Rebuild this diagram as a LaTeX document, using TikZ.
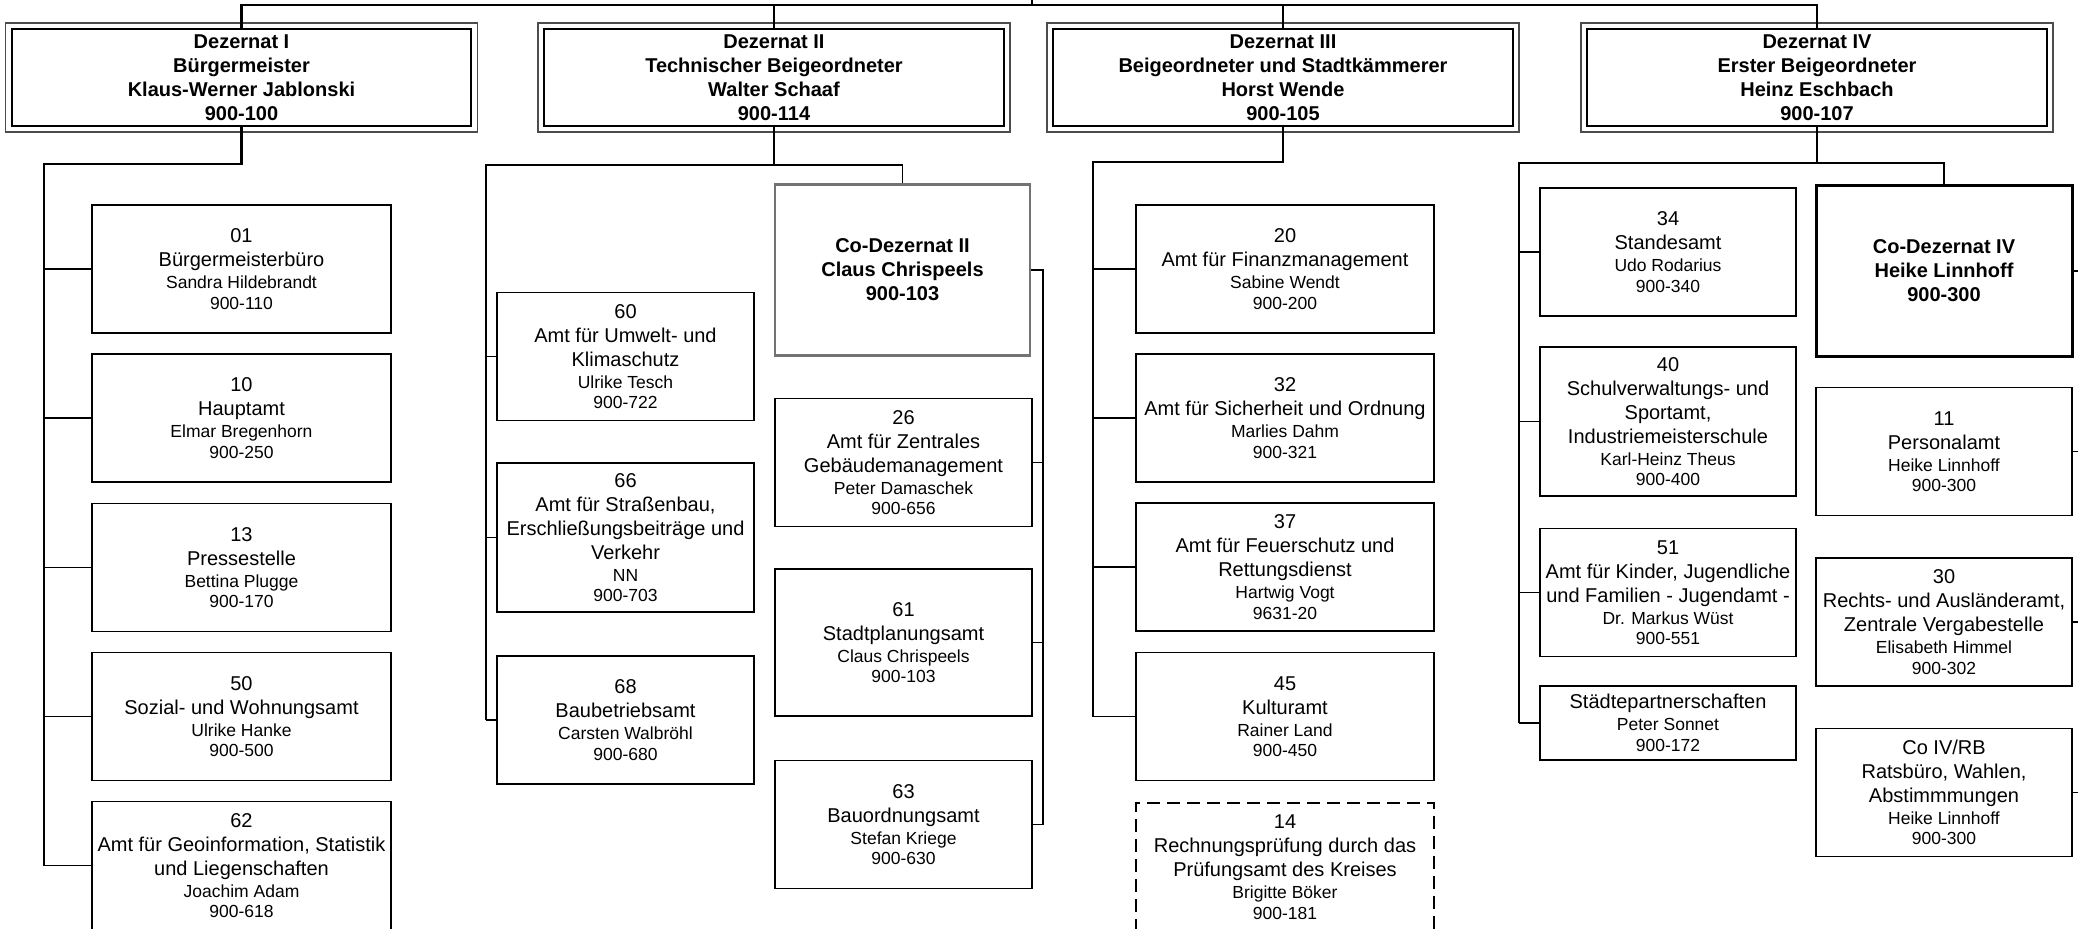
\documentclass[tikz,border=0pt]{standalone}
\usepackage{fontspec}
\setmainfont{Liberation Sans}

\begin{document}
\begin{tikzpicture}[x=1pt, y=-1pt,
    every node/.style={align=center, inner sep=0pt, font=\fontsize{20}{24}\selectfont},
    dezbox/.style={draw, line width=2.2pt, minimum width=459.6pt, minimum height=97pt,
      font=\bfseries\fontsize{20}{24}\selectfont},
    amtbox/.style={draw, line width=1.4pt, minimum width=#1, minimum height=128pt},
    pruefbox/.style={amtbox=#1, dash pattern=on 13pt off 7pt},
    cobox/.style={draw, minimum width=256pt, minimum height=171pt,
      font=\bfseries\fontsize{20}{24}\selectfont},
    spineline/.style={line width=2.2pt},
    twigline/.style={line width=1.3pt}]
      \useasboundingbox (0,0) rectangle (2078,929);
      \def\klein#1{{\fontsize{17.5}{20.5}\selectfont #1}}
      \def\amt#1#2#3{#1\\[-2pt]\klein{#2}\\[-3.5pt]\klein{#3}}
      \def\wI{299pt};
      \def\wII{257pt};
      \def\wIII{298pt};
      \def\wIV{256pt};
      %
      % Dezernate
      \node[dezbox] (dez1) at (241.5,77.5) {Dezernat I\\Bürgermeister\\Klaus-Werner Jablonski\\900-100};
      \node[dezbox] (dez2) at (774,77.5) {Dezernat II\\Technischer Beigeordneter\\Walter Schaaf\\900-114};
      \node[dezbox] (dez3) at (1283,77.5) {Dezernat III\\Beigeordneter und Stadtkämmerer\\Horst Wende\\900-105};
      \node[dezbox] (dez4) at (1817,77.5) {Dezernat IV\\Erster Beigeordneter\\Heinz Eschbach\\900-107};
      \foreach \d in {dez1,dez2,dez3,dez4}
        \draw[line width=1.4pt, black!70] ([shift={(-5,-5)}]\d.north west)
          rectangle ([shift={(5,5)}]\d.south east);   % outer frame
      %
      \coordinate (oben) at (1032,0);
      \coordinate (bus) at (1032,5);
      \draw[spineline] (dez1.north) |- (bus) -| (dez4.north);   % top line
      \draw[spineline] (dez2.north) -- (dez2.north |- bus);
      \draw[spineline] (dez3.north) -- (dez3.north |- bus);
      \draw[twigline] (bus) -- (oben);
      %
      % Dezernat I
      \node[amtbox=\wI] (a01) at (241.5,269) {\amt{01\\Bürgermeisterbüro}{Sandra Hildebrandt}{900-110}};
      \node[amtbox=\wI] (a10) at (241.5,418) {\amt{10\\Hauptamt}{Elmar Bregenhorn}{900-250}};
      \node[amtbox=\wI] (a13) at (241.5,567.5) {\amt{13\\Pressestelle}{Bettina Plugge}{900-170}};
      \node[amtbox=\wI] (a50) at (241.5,716.5) {\amt{50\\Sozial- und Wohnungsamt}{Ulrike Hanke}{900-500}};
      \node[amtbox=\wI] (a62) at (241.5,865.5) {\amt{62\\Amt für Geoinformation, Statistik\\und Liegenschaften}{Joachim Adam}{900-618}};
      \coordinate (s1) at (44,164);
      \draw[spineline] (dez1.south) |- (s1) -- (s1 |- a62.west);
      \foreach \n in {a01,a10,a13,a50,a62}
        \draw[twigline] (s1 |- \n.west) -- (\n.west);
      %
      % Dezernat II
      \node[amtbox=\wII] (a60) at (625.5,356.5) {\amt{60\\Amt für Umwelt- und\\Klimaschutz}{Ulrike Tesch}{900-722}};
      \node[amtbox=\wII, minimum height=149pt] (a66) at (625.5,537.5) {\amt{66\\Amt für Straßenbau,\\Erschließungsbeiträge und\\Verkehr}{NN}{900-703}};
      \node[amtbox=\wII] (a68) at (625.5,720) {\amt{68\\Baubetriebsamt}{Carsten Walbröhl}{900-680}};
      \node[cobox, draw=black!55, line width=2.6pt, minimum width=255pt] (co2) at (902.5,270) {Co-Dezernat II\\Claus Chrispeels\\900-103};
      \node[amtbox=\wII] (a26) at (903.5,462.5) {\amt{26\\Amt für Zentrales\\Gebäudemanagement}{Peter Damaschek}{900-656}};
      \node[amtbox=\wII, minimum height=147pt] (a61) at (903.5,642.5) {\amt{61\\Stadtplanungsamt}{Claus Chrispeels}{900-103}};
      \node[amtbox=\wII] (a63) at (903.5,824.5) {\amt{63\\Bauordnungsamt}{Stefan Kriege}{900-630}};
      \coordinate (s2) at (486,165);
      \draw[spineline] (dez2.south) |- (s2) -- (s2 |- a66.west);
      \draw[twigline] (s2 |- a66.west) -- (s2 |- a68.west);
      \draw[twigline] (dez2.south |- s2) -| (co2.north);
      \foreach \n in {a60,a66,a68}
        \draw[twigline] (s2 |- \n.west) -- (\n.west);
      \coordinate (r2) at (1043,270);
      \draw[twigline] (co2.east) -- (r2) |- (a63.east);
      \foreach \n in {a26,a61}
        \draw[twigline] (r2 |- \n.east) -- (\n.east);
      %
      % Dezernat III
      \node[amtbox=\wIII] (a20) at (1285,269) {\amt{20\\Amt für Finanzmanagement}{Sabine Wendt}{900-200}};
      \node[amtbox=\wIII] (a32) at (1285,418) {\amt{32\\Amt für Sicherheit und Ordnung}{Marlies Dahm}{900-321}};
      \node[amtbox=\wIII] (a37) at (1285,567) {\amt{37\\Amt für Feuerschutz und\\Rettungsdienst}{Hartwig Vogt}{9631-20}};
      \node[amtbox=\wIII] (a45) at (1285,716.5) {\amt{45\\Kulturamt}{Rainer Land}{900-450}};
      \node[pruefbox=\wIII] (a14) at (1285,867) {\amt{14\\Rechnungsprüfung durch das\\Prüfungsamt des Kreises}{Brigitte Böker}{900-181}};
      \coordinate (s3) at (1093,162);
      \draw[spineline] (dez3.south) |- (s3) -- (s3 |- a45.west);
      \foreach \n in {a20,a32,a37,a45}
        \draw[twigline] (s3 |- \n.west) -- (\n.west);
      %
      % Dezernat IV
      \node[amtbox=\wIV] (a34) at (1668,252) {\amt{34\\Standesamt}{Udo Rodarius}{900-340}};
      \node[amtbox=\wIV, minimum height=149pt] (a40) at (1668,421.5) {\amt{40\\Schulverwaltungs- und\\Sportamt,\\Industriemeisterschule}{Karl-Heinz Theus}{900-400}};
      \node[amtbox=\wIV] (a51) at (1668,592.5) {\amt{51\\Amt für Kinder, Jugendliche\\und Familien - Jugendamt -}{Dr. Markus Wüst}{900-551}};
      \node[amtbox=\wIV, minimum height=74pt] (asp) at (1668,723) {\amt{Städtepartnerschaften}{Peter Sonnet}{900-172}};
      \node[cobox, line width=3pt] (co4) at (1944,271) {Co-Dezernat IV\\Heike Linnhoff\\900-300};
      \node[amtbox=\wIV] (a11) at (1944,451.5) {\amt{11\\Personalamt}{Heike Linnhoff}{900-300}};
      \node[amtbox=\wIV] (a30) at (1944,622) {\amt{30\\Rechts- und Ausländeramt,\\Zentrale Vergabestelle}{Elisabeth Himmel}{900-302}};
      \node[amtbox=\wIV] (arb) at (1944,792.5) {\amt{Co IV/RB\\Ratsbüro, Wahlen,\\Abstimmmungen}{Heike Linnhoff}{900-300}};
      \coordinate (s4) at (1519,163);
      \draw[spineline] (dez4.south) |- (s4) -- (s4 |- asp.west);
      \draw[twigline] (dez4.south |- s4) -| (co4.north);
      \foreach \n in {a34,a40,a51,asp}
        \draw[twigline] (s4 |- \n.west) -- (\n.west);
      \coordinate (r4) at (2086,271);
      \draw[twigline] (co4.east) -- (r4) |- (arb.east);
      \foreach \n in {a11,a30}
        \draw[twigline] (r4 |- \n.east) -- (\n.east);
      %
    \end{tikzpicture}
\end{document}
